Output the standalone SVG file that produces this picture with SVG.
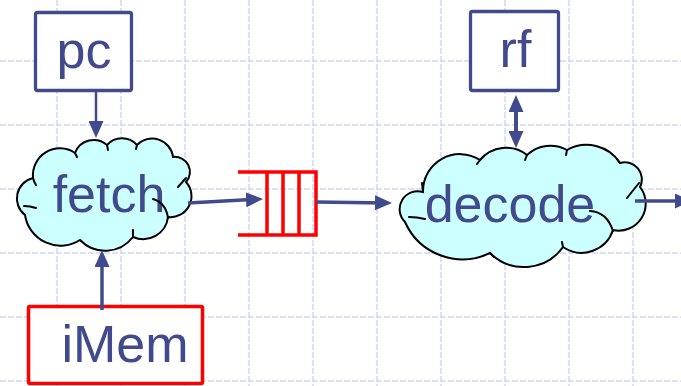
<svg xmlns="http://www.w3.org/2000/svg" width="681" height="386" viewBox="0 0 681 386">
  <style>
    .grid line { stroke: #d0d8f8; stroke-width: 1.5; stroke-dasharray: 6 2; }
    .cloud { fill: #ccffff; stroke: #000; stroke-width: 2; }
    .hook { fill: none; stroke: #000; stroke-width: 2; stroke-linecap: round; }
    .box { fill: #fff; stroke: #414a8c; stroke-width: 3.3; }
    .mem { fill: #fff; stroke: #ff0000; stroke-width: 3.5; }
    .queue { fill: none; stroke: #ff0000; stroke-width: 3.5; }
    .label { font-family: "Liberation Sans", Arial, sans-serif; font-size: 52px; fill: #414a8c; text-anchor: middle; }
    .wire { stroke: #414a8c; fill: none; }
  </style>
  <defs>
    <marker id="ah" markerUnits="userSpaceOnUse" markerWidth="17" markerHeight="15" refX="11" refY="7.5" orient="auto-start-reverse">
      <path d="M0,0 L17,7.5 L0,15 Z" fill="#414a8c"/>
    </marker>
  </defs>

  <!-- background grid -->
  <g class="grid">
    <line x1="57" y1="0" x2="57" y2="386"/>
    <line x1="121" y1="0" x2="121" y2="386"/>
    <line x1="185" y1="0" x2="185" y2="386"/>
    <line x1="249" y1="0" x2="249" y2="386"/>
    <line x1="313" y1="0" x2="313" y2="386"/>
    <line x1="377" y1="0" x2="377" y2="386"/>
    <line x1="441" y1="0" x2="441" y2="386"/>
    <line x1="505" y1="0" x2="505" y2="386"/>
    <line x1="569" y1="0" x2="569" y2="386"/>
    <line x1="633" y1="0" x2="633" y2="386"/>
    <line x1="0" y1="61" x2="681" y2="61"/>
    <line x1="0" y1="125" x2="681" y2="125"/>
    <line x1="0" y1="189" x2="681" y2="189"/>
    <line x1="0" y1="253" x2="681" y2="253"/>
    <line x1="0" y1="317" x2="681" y2="317"/>
    <line x1="0" y1="381" x2="681" y2="381"/>
  </g>

  <!-- pc register -->
  <g id="pc">
    <rect class="box" x="35.5" y="12.5" width="96" height="78" rx="2"/>
    <text class="label" x="84" y="68">pc</text>
  </g>

  <!-- register file -->
  <g id="rf">
    <rect class="box" x="470.5" y="11.5" width="88" height="79" rx="2"/>
    <text class="label" x="515.5" y="67">rf</text>
  </g>

  <!-- instruction memory -->
  <g id="iMem">
    <rect class="mem" x="28.5" y="306.5" width="174" height="77" rx="1.5"/>
    <text class="label" x="125" y="362">iMem</text>
  </g>

  <!-- fetch stage -->
  <g id="fetch">
    <path class="cloud" d="M33,178 A27,27 0 0 1 75,153 A20,20 0 0 1 107,145 A20,20 0 0 1 137,145 A21,21 0 0 1 173,157 A15,15 0 0 1 186,182 A21,21 0 0 1 168,217 A25,25 0 0 1 133,237 A35,35 0 0 1 80,240 A36,36 0 0 1 25,215 A21,21 0 0 1 33,178 Z"/>
    <text class="label" x="109" y="212">fetch</text>
    <path class="hook" d="M33,178 Q34,182 36,185 M24,206 Q30,206 36,208 M75,153 Q76,155 77,157 M107,145 L108,150 M137,145 L136,149 M186,178 L178,187 M153,199 Q166,203 168,218 M133,230 L133,237"/>
  </g>

  <!-- fetch/decode queue -->
  <g id="queue">
    <path class="queue" d="M238,172 H316 V235 H238 M267,172 V235 M283,172 V235 M299,172 V235"/>
  </g>

  <!-- decode stage -->
  <g id="decode">
    <path class="cloud" d="M423,192 A37,37 0 0 1 480,160 A34,34 0 0 1 527,155 A34,34 0 0 1 567,150 A40,40 0 0 1 620,163 A17,17 0 0 1 640,187 A27,27 0 0 1 613,230 A33,33 0 0 1 563,247 A48,48 0 0 1 490,253 A63,63 0 0 1 405,222 A18,18 0 0 1 423,192 Z"/>
    <text class="label" x="510" y="222">decode</text>
    <path class="hook" d="M422,183 L423,192 M409,217 Q417,217 425,219 M480,160 L477,164 M527,155 L525,160 M567,150 L566,155 M620,163 L617,159 M639,183 L627,198 M590,211 Q607,212 613,231 M563,247 L562,242 M490,253 L494,257"/>
  </g>

  <!-- connectors -->
  <g id="connectors" class="wire">
    <line x1="96" y1="92" x2="96" y2="132" stroke-width="2.5" marker-end="url(#ah)"/>
    <line x1="102" y1="310" x2="102" y2="256" stroke-width="3.5" marker-end="url(#ah)"/>
    <line x1="188" y1="203" x2="257" y2="199.3" stroke-width="3.5" marker-end="url(#ah)"/>
    <line x1="316" y1="202" x2="386" y2="202.9" stroke-width="3.5" marker-end="url(#ah)"/>
    <line x1="516" y1="101" x2="516" y2="142" stroke-width="4" marker-start="url(#ah)" marker-end="url(#ah)"/>
    <line x1="635" y1="201" x2="686" y2="201" stroke-width="3.5" marker-end="url(#ah)"/>
  </g>
</svg>
